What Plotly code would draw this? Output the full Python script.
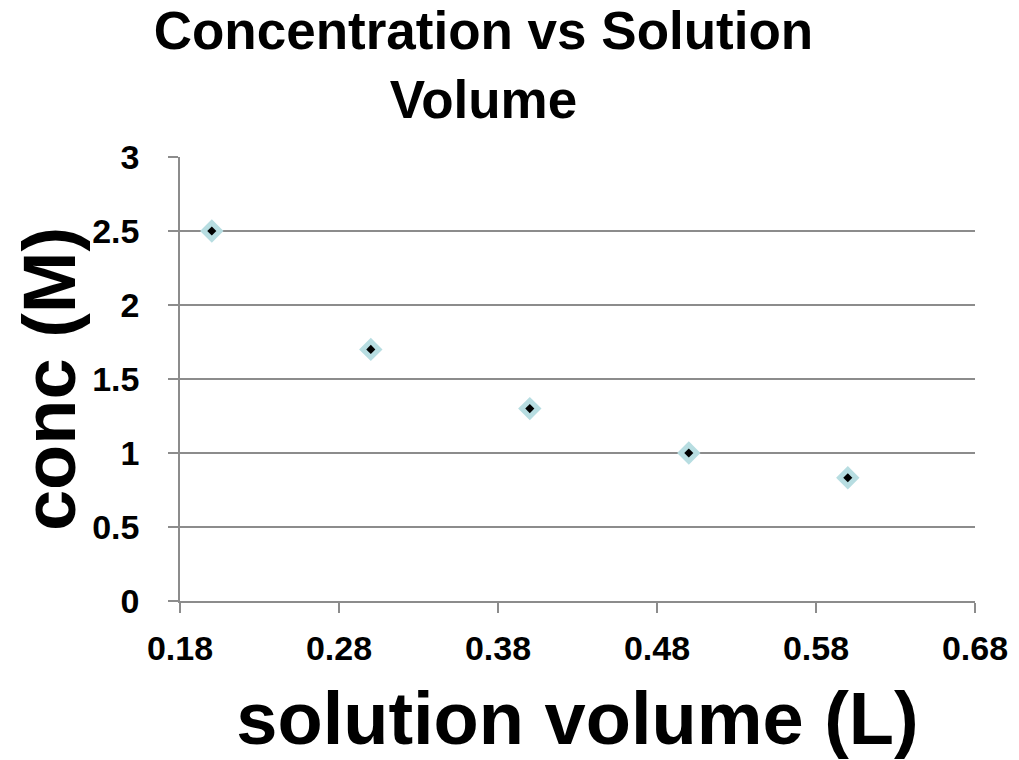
import plotly.graph_objects as go

# Data
volume_L = [0.2, 0.3, 0.4, 0.5, 0.6]
conc_M = [2.5, 1.7, 1.3, 1.0, 0.833]

x_ticks = [0.18, 0.28, 0.38, 0.48, 0.58, 0.68]
x_tick_labels = ["0.18", "0.28", "0.38", "0.48", "0.58", "0.68"]
y_ticks = [0, 0.5, 1, 1.5, 2, 2.5, 3]
y_tick_labels = ["0", "0.5", "1", "1.5", "2", "2.5", "3"]

title_text = "Concentration vs Solution<br>Volume"
x_title = "solution volume (L)"
y_title = "conc (M)"

FONT = "Liberation Sans, Arial, sans-serif"
GRID = "#8c8c8c"

fig = go.Figure()
fig.add_trace(go.Scatter(
    x=volume_L, y=conc_M, mode="markers", name="conc",
    marker=dict(symbol="diamond", size=18, color="#b7dde1", line=dict(width=0)),
))
fig.add_trace(go.Scatter(
    x=volume_L, y=conc_M, mode="markers", showlegend=False, hoverinfo="skip",
    marker=dict(symbol="diamond", size=7, color="black", line=dict(width=0)),
))

# page body has an 8px margin, so the figure is sized/offset to compensate
fig.update_layout(
    width=1011, height=752,
    paper_bgcolor="white", plot_bgcolor="white",
    showlegend=False,
    margin=dict(l=172, r=44, t=149, b=159, autoexpand=False),
    title=dict(text=title_text, x=0.4703, xanchor="center", xref="container",
               y=0.945, yanchor="top", yref="container",
               font=dict(family=FONT, size=53, color="black", weight="bold")),
    font=dict(family=FONT, color="black"),
)

fig.update_xaxes(
    range=[0.18, 0.68], tickvals=x_ticks, ticktext=x_tick_labels,
    showgrid=False, showline=True, linecolor=GRID, linewidth=1.5,
    ticks="outside", ticklen=10, tickcolor=GRID, tickwidth=1.5,
    tickfont=dict(family=FONT, size=34, color="black", weight="bold"),
    ticklabelstandoff=6,
    title=dict(text=x_title, font=dict(family=FONT, size=74, color="black", weight="bold"), standoff=27),
    zeroline=False,
)
fig.update_yaxes(
    range=[0, 3], tickvals=y_ticks, ticktext=y_tick_labels,
    showgrid=True, gridcolor=GRID, gridwidth=1.5,
    showline=True, linecolor=GRID, linewidth=1.5,
    ticks="outside", ticklen=10, tickcolor=GRID, tickwidth=1.5,
    tickfont=dict(family=FONT, size=34, color="black", weight="bold"),
    ticklabelstandoff=22,
    title=dict(text=y_title, font=dict(family=FONT, size=74, color="black", weight="bold"), standoff=20),
    zeroline=False,
)

fig.write_html("out.html")
